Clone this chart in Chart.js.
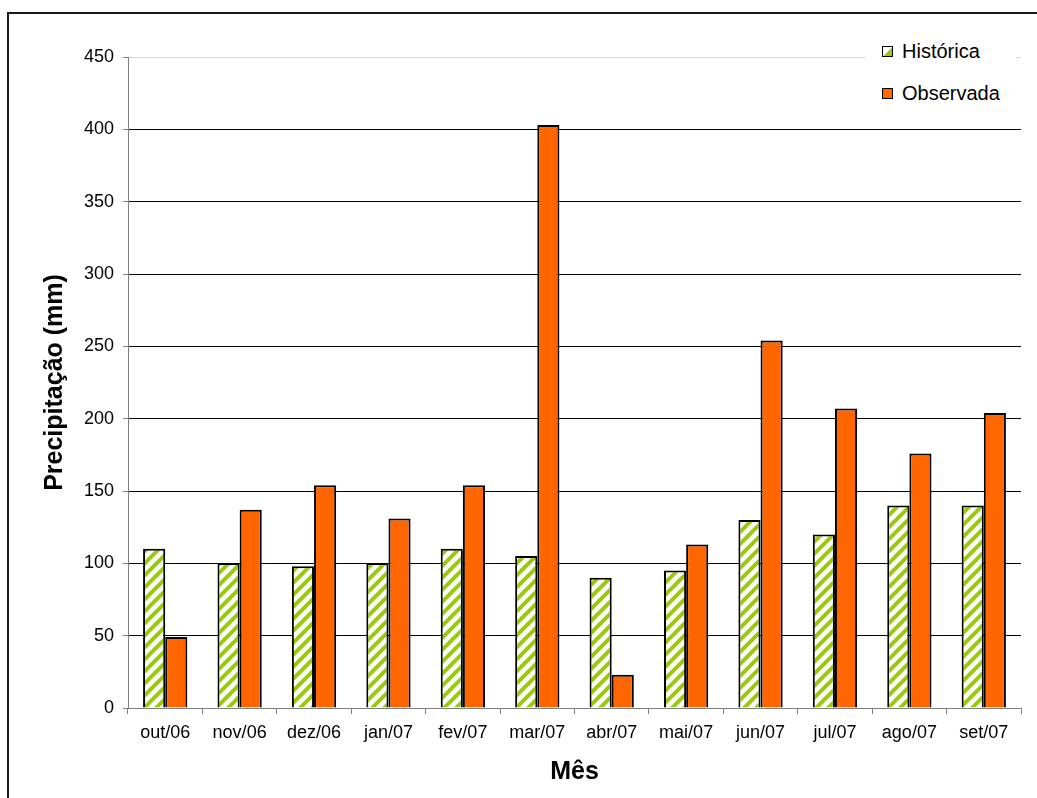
<!DOCTYPE html>
<html>
<head>
<meta charset="utf-8">
<script src="https://cdn.jsdelivr.net/npm/chart.js@4.4.1/dist/chart.umd.min.js"></script>
<style>
  body { margin: 0; overflow: hidden; background: #fff; }
  #wrap { position: relative; width: 1037px; height: 798px; }
  #frame { position: absolute; left: 7px; top: 12px; width: 1100px; height: 900px;
           border-left: 2px solid #1a1a1a; border-top: 2px solid #1a1a1a; }
  #chart { position: absolute; left: 0; top: 0; }
  #legend { position: absolute; left: 866px; top: 30px; width: 150px; height: 82px;
            background: #fff; font-family: 'Liberation Sans', Arial, sans-serif; font-size: 20px; color: #000; }
  .item { position: absolute; left: 16px; height: 22px; line-height: 22px; }
  .sw { position: absolute; left: 0; top: 6px; width: 9px; height: 9px; border: 1px solid #000; }
  .item span { position: absolute; left: 20px; white-space: nowrap; }
</style>
</head>
<body>
<div id="wrap">
  <div id="frame"></div>
  <canvas id="chart" width="1037" height="798"></canvas>
  <div id="legend">
    <div class="item" style="top:10px"><div class="sw" style="background:linear-gradient(135deg,#fff 50%,#99cc00 50%)"></div><span>Histórica</span></div>
    <div class="item" style="top:52px"><div class="sw" style="background:#ff6600"></div><span>Observada</span></div>
  </div>
</div>
<script>
var months = ['out/06', 'nov/06', 'dez/06', 'jan/07', 'fev/07', 'mar/07',
              'abr/07', 'mai/07', 'jun/07', 'jul/07', 'ago/07', 'set/07'];
var historica = [110, 100, 98, 100, 110, 105, 90, 95, 130, 120, 140, 140];
var observada = [49, 137, 154, 131, 154, 403, 23, 113, 254, 207, 176, 204];
var yTicks = [0, 50, 100, 150, 200, 250, 300, 350, 400, 450];

// hatchPattern makes the green diagonal stripes used by the "Histórica" bars.
function hatchPattern() {
    var s = 12;
    var c = document.createElement('canvas');
    c.width = s;
    c.height = s;
    var ctx = c.getContext('2d');
    ctx.fillStyle = '#fff';
    ctx.fillRect(0, 0, s, s);
    ctx.strokeStyle = '#99cc00';
    ctx.lineWidth = 4;
    ctx.beginPath();
    ctx.moveTo(-2, s + 2); ctx.lineTo(s + 2, -2);
    ctx.moveTo(-2, 2); ctx.lineTo(2, -2);
    ctx.moveTo(s - 2, s + 2); ctx.lineTo(s + 2, s - 2);
    ctx.stroke();
    return document.getElementById('chart').getContext('2d').createPattern(c, 'repeat');
}

var font = "'Liberation Sans', Arial, sans-serif";

var conf = {
    type: 'bar',
    data: {
        labels: months,
        datasets: [
            {
                label: 'Histórica',
                data: historica,
                backgroundColor: hatchPattern(),
                borderColor: '#000',
                borderWidth: 2,
                borderSkipped: 'bottom',
            },
            {
                label: 'Observada',
                data: observada,
                backgroundColor: '#ff6600',
                borderColor: '#000',
                borderWidth: 2,
                borderSkipped: 'bottom',
            },
        ],
    },
    options: {
        responsive: false,
        animation: false,
        layout: { padding: { left: 0, top: 57, right: 16, bottom: 0 } },
        categoryPercentage: 0.595,
        barPercentage: 1.0,
        plugins: {
            legend: { display: false },
            tooltip: { enabled: false },
        },
        scales: {
            x: {
                afterFit: function(scale) { scale.height = 90; },
                border: { color: '#808080', width: 1 },
                grid: { drawOnChartArea: false, drawTicks: true, tickLength: 6, tickColor: '#808080', offset: true },
                ticks: { color: '#000', padding: 8, maxRotation: 0, font: { family: font, size: 18 } },
                title: { display: true, text: 'Mês', color: '#000', padding: { top: 0, bottom: 11 },
                         font: { family: font, size: 25, weight: 'bold' } },
            },
            y: {
                min: 0,
                max: 450,
                afterFit: function(scale) { scale.width = 128; },
                afterBuildTicks: function(scale) {
                    scale.ticks = yTicks.map(function(v) { return { value: v }; });
                },
                border: { color: '#808080', width: 1 },
                grid: {
                    color: function(c) { return c.tick && c.tick.value == 450 ? '#d8d8d8' : '#000'; },
                    lineWidth: 1,
                    tickLength: 5,
                    tickColor: '#808080',
                },
                ticks: { color: '#000', padding: 9, font: { family: font, size: 18 } },
                title: { display: true, text: 'Precipitação (mm)', color: '#000', padding: { top: 40, bottom: 0 },
                         font: { family: font, size: 25, weight: 'bold' } },
            },
        },
    },
};

new Chart(document.getElementById('chart').getContext('2d'), conf);
</script>
</body>
</html>
